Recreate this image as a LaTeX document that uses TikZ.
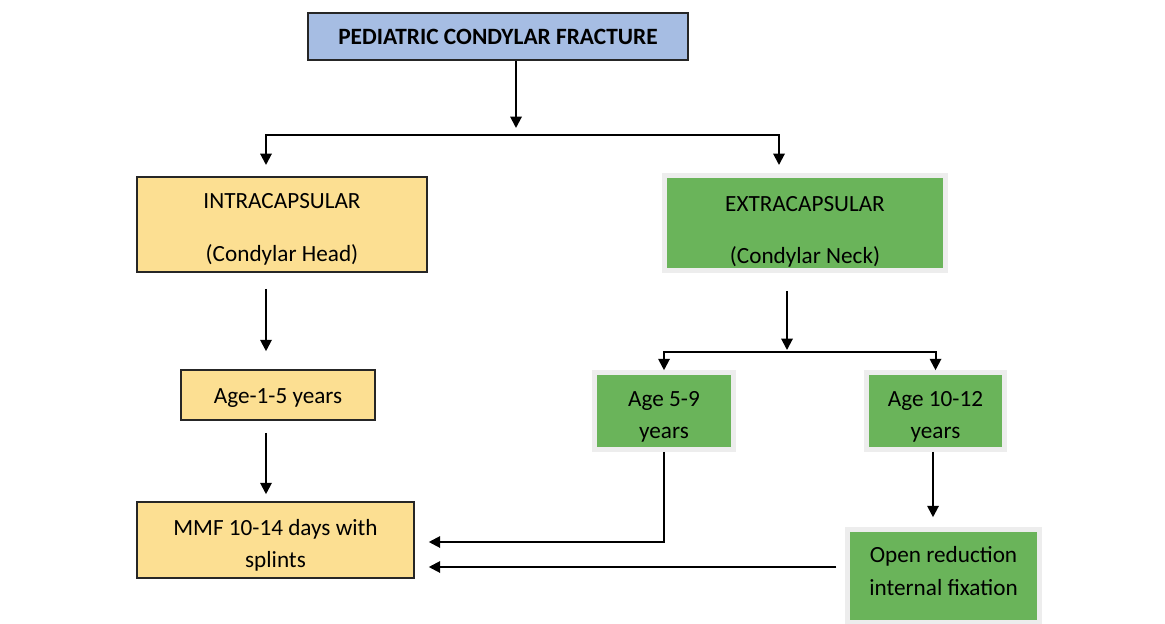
\documentclass[tikz,border=0pt]{standalone}
\usepackage{fontspec}
\setmainfont{Carlito}
\usetikzlibrary{positioning,calc,arrows.meta}

\definecolor{boxblue}{RGB}{166,189,227}
\definecolor{boxyellow}{RGB}{252,223,146}
\definecolor{boxgreen}{RGB}{106,180,90}

% lift of the first line, so that the text sits lower in its box
\newcommand{\lowtext}[1]{\rule{0pt}{#1}}

\begin{document}
\begin{tikzpicture}[x=0.02cm, y=-0.02cm, >={Triangle[length=6.5pt,width=6.5pt]}, line width=1.15pt,
    yellowbox/.style={draw=black!85, line width=0.9pt, fill=boxyellow, align=center, inner sep=0pt, font=\fontsize{13.2}{18.5}\selectfont},
    greenbox/.style={draw=black!7, line width=2.6pt, fill=boxgreen, align=center, inner sep=0pt, font=\fontsize{13.2}{18.5}\selectfont}]
    \useasboundingbox (0,0) rectangle (1165,624);

    % top of the tree
    \node[draw=black!85, line width=1.2pt, fill=boxblue, minimum width=7.6cm, minimum height=0.94cm,
          font=\fontsize{13.3}{16}\selectfont\bfseries] (top) at (498,36.5) {PEDIATRIC CONDYLAR FRACTURE};

    % left branch
    \node[yellowbox, minimum width=5.8cm, minimum height=1.9cm] (intra) at (282,224.5) {\lowtext{14pt}INTRACAPSULAR\\[4mm](Condylar Head)};
    \node[yellowbox, minimum width=3.88cm, minimum height=1.0cm] (ageyoung) at (278,395) {\lowtext{12pt}Age-1-5 years};
    \node[yellowbox, minimum width=5.54cm, minimum height=1.52cm] (mmf) at (275.5,540) {\lowtext{15pt}MMF 10-14 days with\\splints};

    % right branch
    \node[greenbox, minimum width=5.62cm, minimum height=1.9cm] (extra) at (805,223) {\lowtext{18.7pt}EXTRACAPSULAR\\[4mm](Condylar Neck)};
    \node[greenbox, minimum width=2.78cm, minimum height=1.54cm] (agemid) at (664,411) {\lowtext{15.3pt}Age 5-9\\years};
    \node[greenbox, minimum width=2.76cm, minimum height=1.54cm] (ageold) at (935.5,411) {\lowtext{15.3pt}Age 10-12\\years};
    \node[greenbox, minimum width=3.84cm, minimum height=1.86cm] (orif) at (943.5,576) {Open reduction\\internal fixation\rule[-5.6pt]{0pt}{5.6pt}};

    \coordinate (hub) at (516,128);
    \coordinate (bar) at (516,135);
    \coordinate (fork) at (787,352);

    \draw[->] (top.south -| hub) -- (hub);
    \draw[->] (bar) -| (266,165);
    \draw[->] (bar) -| (779,165);

    \draw[->, shorten <=0.32cm, shorten >=0.36cm] (intra.south -| 266,0) -- (ageyoung.north -| 266,0);
    \draw[->, shorten <=0.24cm, shorten >=0.14cm] (ageyoung.south -| 266,0) -- (mmf.north -| 266,0);

    \draw[->, shorten <=0.36cm] (extra.south -| fork) -- ([yshift=0.04cm]fork);
    \draw[->] (fork) -| (agemid.north);
    \draw[->] (fork) -| (ageold.north);
    \draw[->, shorten >=0.2cm] ([xshift=-0.05cm]ageold.south) -- ([xshift=-0.05cm]ageold.south |- orif.north);

    \draw[->, shorten >=0.28cm] (agemid.south) |- ([yshift=-0.04cm]mmf.east);
    \draw[->, shorten <=0.18cm, shorten >=0.28cm] ([yshift=0.18cm]orif.west) -- ([yshift=0.18cm]orif.west -| mmf.east);
\end{tikzpicture}
\end{document}
